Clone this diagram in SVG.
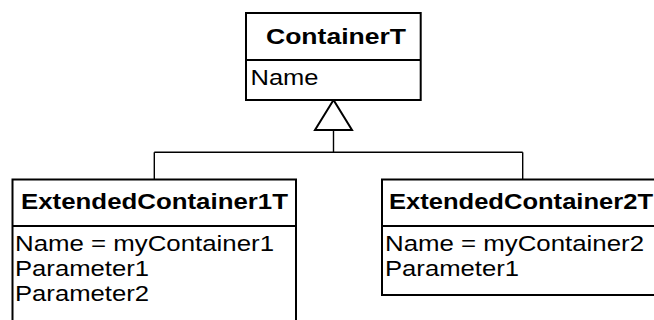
<svg xmlns="http://www.w3.org/2000/svg" width="654" height="320" viewBox="0 0 654 320">
  <style>
    .box { fill: #ffffff; stroke: #000000; stroke-width: 2; }
    .div { stroke: #000000; stroke-width: 2; fill: none; }
    .conn { stroke: #000000; stroke-width: 1.4; fill: none; }
    .head { fill: #ffffff; stroke: #000000; stroke-width: 2; stroke-linejoin: miter; }
    .title { font-family: "Liberation Sans", Arial, sans-serif; font-size: 22px; font-weight: bold; fill: #000000; }
    .attr { font-family: "Liberation Sans", Arial, sans-serif; font-size: 22px; fill: #000000; }
  </style>
  <rect width="654" height="320" fill="#ffffff"/>

  <!-- generalization connectors -->
  <g id="connectors">
    <path class="conn" d="M333.5 130 V152.3 M154.3 152.3 H522.7 M154.3 152.3 V180 M522.7 152.3 V180"/>
    <polygon class="head" points="333.5,100 315,130 352,130"/>
  </g>

  <!-- base class -->
  <g id="ContainerT">
    <rect class="box" x="246" y="13" width="174.7" height="87"/>
    <line class="div" x1="246" y1="60" x2="420.7" y2="60"/>
    <text class="title" x="266" y="43.5" textLength="140" lengthAdjust="spacingAndGlyphs">ContainerT</text>
    <text class="attr" x="250.5" y="85" textLength="68" lengthAdjust="spacingAndGlyphs">Name</text>
  </g>

  <!-- derived class 1 -->
  <g id="ExtendedContainer1T">
    <rect class="box" x="12.5" y="179.5" width="283.5" height="160"/>
    <line class="div" x1="12.5" y1="226" x2="296" y2="226"/>
    <text class="title" x="21" y="208.5" textLength="267" lengthAdjust="spacingAndGlyphs">ExtendedContainer1T</text>
    <text class="attr" x="15" y="250.5" textLength="259" lengthAdjust="spacingAndGlyphs">Name = myContainer1</text>
    <text class="attr" x="15" y="275.5" textLength="134" lengthAdjust="spacingAndGlyphs">Parameter1</text>
    <text class="attr" x="15" y="300.5" textLength="134" lengthAdjust="spacingAndGlyphs">Parameter2</text>
  </g>

  <!-- derived class 2 -->
  <g id="ExtendedContainer2T">
    <rect class="box" x="382" y="179.5" width="283.5" height="115.5"/>
    <line class="div" x1="382" y1="226" x2="665.5" y2="226"/>
    <text class="title" x="389" y="208.5" textLength="264" lengthAdjust="spacingAndGlyphs">ExtendedContainer2T</text>
    <text class="attr" x="385" y="250.5" textLength="259" lengthAdjust="spacingAndGlyphs">Name = myContainer2</text>
    <text class="attr" x="385" y="275.5" textLength="134" lengthAdjust="spacingAndGlyphs">Parameter1</text>
  </g>
</svg>
